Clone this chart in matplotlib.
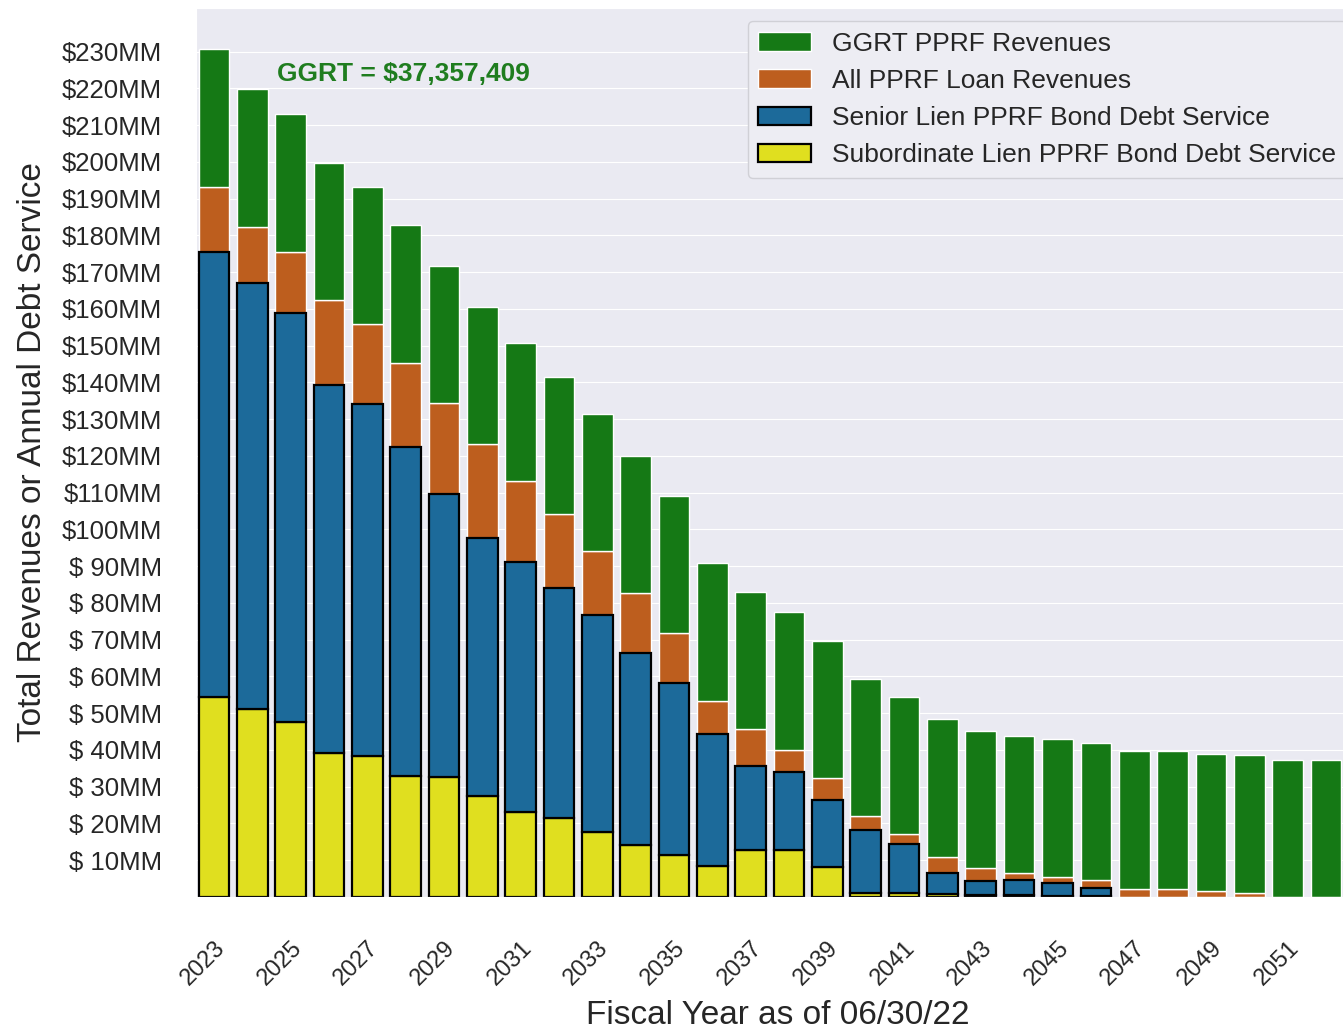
import matplotlib
matplotlib.use('Agg')
import matplotlib.pyplot as plt
from matplotlib.patches import Patch
import seaborn as sns
import numpy as np

# fiscal years and revenue / debt service figures in $MM
years = list(range(2023, 2053))
ggrt = 37.357409
loan_rev = [193.3, 182.4, 175.6, 162.5, 155.8, 145.4, 134.4, 123.3, 113.3, 104.2,
            94.2, 82.6, 71.8, 53.4, 45.7, 40.1, 32.3, 22.0, 17.1, 11.0,
            7.9, 6.5, 5.5, 4.6, 2.3, 2.3, 1.5, 1.2, 0.0, 0.0]
senior_ds = [121.3, 115.9, 111.3, 100.0, 95.7, 89.5, 77.1, 70.3, 68.0, 62.7,
             59.1, 52.2, 46.9, 35.8, 22.9, 21.3, 18.2, 17.1, 13.3, 5.6,
             3.8, 4.1, 3.3, 2.1, 0, 0, 0, 0, 0, 0]
sub_ds = [54.3, 51.1, 47.7, 39.3, 38.4, 32.9, 32.6, 27.4, 23.2, 21.4,
          17.6, 14.1, 11.4, 8.5, 12.8, 12.8, 8.2, 1.1, 1.1, 0.8,
          0.6, 0.5, 0.4, 0.3, 0, 0, 0, 0, 0, 0]

green = '#157915'
orange = '#bd5e1e'
blue = '#1c6a9a'
yellow = '#e0df1f'

sns.set_style('darkgrid')
plt.rcParams['font.family'] = ['Liberation Sans', 'DejaVu Sans']

fig = plt.figure(figsize=(13.43, 10.31), dpi=100)
ax = fig.add_axes([196 / 1343, 134 / 1031, (1360 - 196) / 1343, (897 - 8) / 1031])

x = np.arange(len(years))
loan = np.array(loan_rev)
senior = np.array(senior_ds)
sub = np.array(sub_ds)
w = 0.8

# revenues: loan revenues with the flat GGRT stacked on top
ax.bar(x, loan, w, color=orange, edgecolor='white', linewidth=1)
ax.bar(x, np.full(len(x), ggrt), w, bottom=loan, color=green, edgecolor='white', linewidth=1)

# debt service drawn in front
m = sub > 0
ax.bar(x[m], sub[m], w, color=yellow, edgecolor='black', linewidth=1.6)
m = senior > 0
ax.bar(x[m], senior[m], w, bottom=sub[m], color=blue, edgecolor='black', linewidth=1.6)

ax.set_xlim(-0.47, 29.89)
ax.set_ylim(0, 241.9)
ax.xaxis.grid(False)

yt = list(range(10, 240, 10))
ax.set_yticks(yt)
ax.set_yticklabels(['$%3dMM' % v for v in yt])
ax.set_xticks(x[::2])
ax.set_xticklabels([str(y) for y in years[::2]], rotation=45, ha='right',
                   rotation_mode='anchor', fontsize=17)
ax.tick_params(axis='y', labelsize=18.5, pad=21)
ax.tick_params(axis='x', pad=25)

ax.set_ylabel('Total Revenues or Annual Debt Service', fontsize=24, labelpad=10)
ax.set_xlabel('Fiscal Year as of 06/30/22', fontsize=24, labelpad=8)

ax.text(1.65, 224, 'GGRT = $37,357,409', color='#1f7d1f', fontsize=19,
        fontweight='bold', va='center', ha='left')

handles = [
    Patch(facecolor=green, edgecolor='white', label='GGRT PPRF Revenues'),
    Patch(facecolor=orange, edgecolor='white', label='All PPRF Loan Revenues'),
    Patch(facecolor=blue, edgecolor='black', linewidth=1.6, label='Senior Lien PPRF Bond Debt Service'),
    Patch(facecolor=yellow, edgecolor='black', linewidth=1.6, label='Subordinate Lien PPRF Bond Debt Service'),
]
ax.legend(handles=handles, loc='upper right', fontsize=19, facecolor='#ededf3',
          framealpha=1, edgecolor='#d0d0d6')

fig.savefig('out.png', dpi=100)
